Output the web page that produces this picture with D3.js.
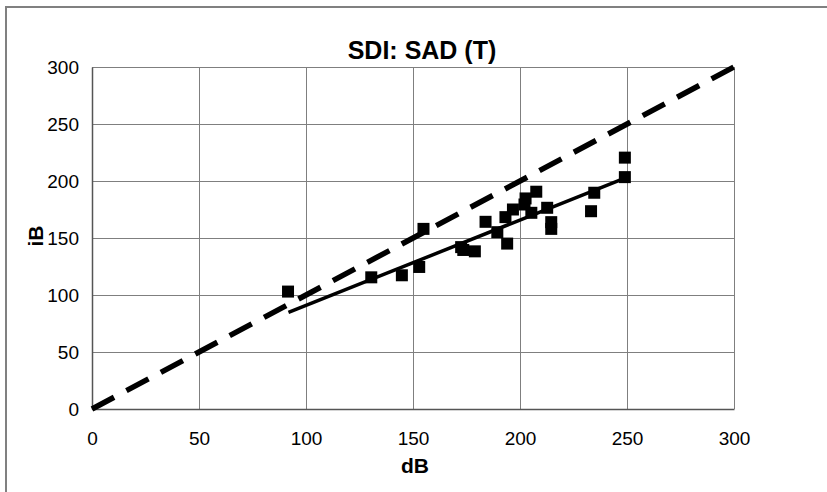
<!DOCTYPE html>
<html>
<head>
<meta charset="utf-8">
<script src="https://cdn.jsdelivr.net/npm/d3@7"></script>
<style>
  body { margin: 0; background: #fff; }
  svg { font-family: "Liberation Sans", Arial, sans-serif; }
</style>
</head>
<body>
<div id="graphique"></div>
<script>
// données
const dB = [91.6, 130.5, 144.8, 152.9, 154.9, 172.5, 173.5, 178.9, 183.9, 189.4, 194, 193.2,
            196.7, 202.6, 202.1, 205.3, 207.6, 212.7, 214.6, 214.6, 233.2, 234.7, 249, 249]
const iB = [103, 115.5, 117.3, 124.6, 158, 142, 139.5, 138.3, 164.2, 155.1, 145.1, 168.3,
            175, 184.7, 179.4, 172.1, 190.6, 176.5, 163.9, 158, 173.5, 189.7, 220.5, 203.4]

// droite de tendance (extrémités)
const trendX = [91.8, 249]
const trendY = [84.7, 202.5]

// droite y = x
const identity = [0, 300]

const ticks = [0, 50, 100, 150, 200, 250, 300]

const points = dB.map((d, i) => ({ x: d, y: iB[i] }))

// Dimension du graph
let margin = { top: 67, left: 92 },
    width = 734 - 92,
    height = 409 - 67

let x = d3.scaleLinear().domain([0, 300]).range([0, width])
let y = d3.scaleLinear().domain([0, 300]).range([height, 0])

let root = d3.select("#graphique")
    .append("svg")
    .attr("width", 827)
    .attr("height", 492)

// cadre extérieur
root.append("rect")
    .attr("x", 6).attr("y", 7)
    .attr("width", 840).attr("height", 500)
    .attr("fill", "none")
    .attr("stroke", "#808080")
    .attr("stroke-width", 2)

let svg = root.append("g")
    .attr("transform", "translate(" + margin.left + "," + margin.top + ")")

// grille
svg.append("g")
    .attr("transform", "translate(0," + height + ")")
    .call(d3.axisBottom(x).tickValues(ticks).tickSize(-height).tickFormat(""))
    .call(g => g.select(".domain").remove())
    .selectAll("line").attr("stroke", "#7f7f7f")

svg.append("g")
    .call(d3.axisLeft(y).tickValues(ticks).tickSize(-width).tickFormat(""))
    .call(g => g.select(".domain").remove())
    .selectAll("line").attr("stroke", "#7f7f7f")

// axes
svg.append("g")
    .attr("transform", "translate(0," + height + ")")
    .call(d3.axisBottom(x).tickValues(ticks).tickSize(0).tickPadding(23))
    .call(g => g.select(".domain").attr("stroke", "#555").attr("stroke-width", 1.5))
    .selectAll("text").attr("font-size", 19).attr("fill", "#000")
    .attr("font-family", "'Liberation Sans', Arial, sans-serif")

svg.append("g")
    .call(d3.axisLeft(y).tickValues(ticks).tickSize(0).tickPadding(13))
    .call(g => g.select(".domain").attr("stroke", "#555").attr("stroke-width", 1.5))
    .selectAll("text").attr("font-size", 19).attr("fill", "#000")
    .attr("font-family", "'Liberation Sans', Arial, sans-serif")

// droite y = x en pointillés
svg.append("line")
    .attr("x1", x(identity[0])).attr("y1", y(identity[0]))
    .attr("x2", x(identity[1])).attr("y2", y(identity[1]))
    .attr("stroke", "#000")
    .attr("stroke-width", 5.5)
    .attr("stroke-dasharray", "25,14")

// tendance
svg.append("line")
    .attr("x1", x(trendX[0])).attr("y1", y(trendY[0]))
    .attr("x2", x(trendX[1])).attr("y2", y(trendY[1]))
    .attr("stroke", "#000")
    .attr("stroke-width", 3.5)

// points
const s = 12
svg.append("g")
    .selectAll("rect")
    .data(points)
    .join("rect")
    .attr("x", d => x(d.x) - s / 2)
    .attr("y", d => y(d.y) - s / 2)
    .attr("width", s)
    .attr("height", s)
    .attr("fill", "#000")

// titres
root.append("text")
    .attr("x", 422).attr("y", 59)
    .attr("text-anchor", "middle")
    .attr("font-size", 25).attr("font-weight", "bold")
    .text("SDI: SAD (T)")

root.append("text")
    .attr("x", 415).attr("y", 473)
    .attr("text-anchor", "middle")
    .attr("font-size", 21).attr("font-weight", "bold")
    .text("dB")

root.append("text")
    .attr("transform", "translate(43,236) rotate(-90)")
    .attr("text-anchor", "middle")
    .attr("font-size", 21).attr("font-weight", "bold")
    .text("iB")
</script>
</body>
</html>
